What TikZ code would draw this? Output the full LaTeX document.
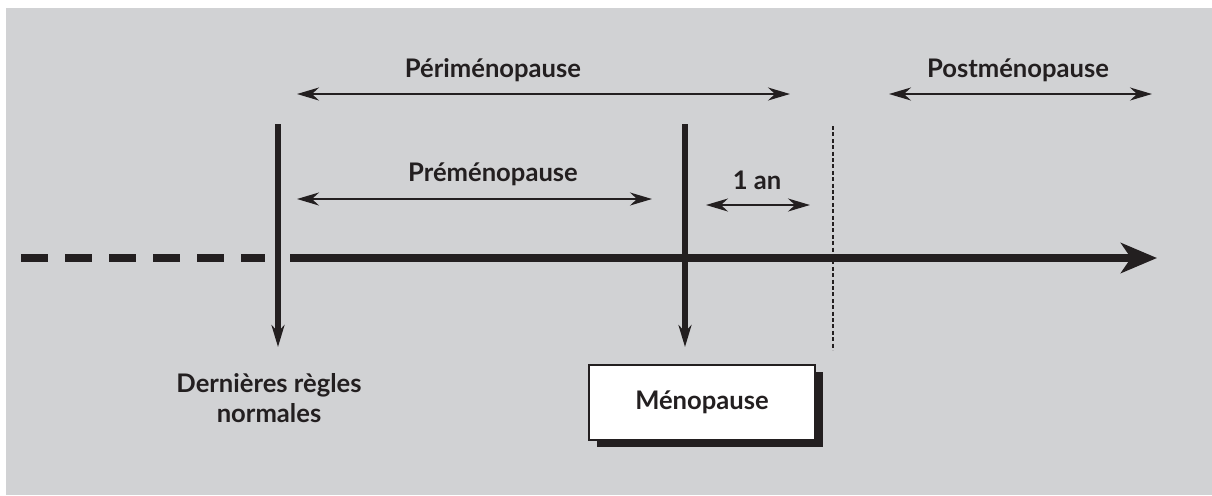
\documentclass[tikz,border=0pt]{standalone}
\usepackage{fontspec}
\setmainfont{Lato}
\usetikzlibrary{arrows.meta,positioning,calc,shadows}

\definecolor{ink}{RGB}{35,31,32}
\definecolor{panel}{RGB}{209,210,212}

\tikzset{
  thinhead/.tip={Stealth[length=11pt,width=6.5pt,inset=3.5pt]},
  bighead/.tip={Stealth[length=18pt,width=15pt,inset=5pt]},
  lbl/.style={font=\bfseries\fontsize{12.8}{15}\selectfont, text=ink, inner sep=0pt, anchor=base},
  phase/.style={thinhead-thinhead, draw=ink, line width=0.9pt},
  timeline/.style={draw=ink, line width=4.4pt},
  event/.style={-thinhead, draw=ink, line width=3.4pt},
  eventbox/.style={draw=ink, fill=white, line width=0.8pt, minimum width=113pt, minimum height=37.5pt,
    drop shadow={shadow xshift=4pt, shadow yshift=-3.5pt, fill=ink, opacity=1}}
}

\begin{document}
\begin{tikzpicture}[x=0.5pt,y=-0.5pt]
  \useasboundingbox (0,0) rectangle (1212,495);
  \fill[panel] (6,8) rectangle (1212,495);

  % time axis
  \coordinate (past) at (21,258);
  \coordinate (gapL) at (265,258);
  \coordinate (gapR) at (290,258);
  \coordinate (future) at (1157,258);

  % vertical markers
  \coordinate (drtop) at (278,124);
  \coordinate (drbot) at (278,347);
  \coordinate (mtop) at (685,124);
  \coordinate (mbot) at (685,347);
  \coordinate (ytop) at (833,126);
  \coordinate (ybot) at (833,350);

  % phase arrows
  \coordinate (periL) at (297,94);
  \coordinate (periR) at (790,94);
  \coordinate (preL) at (297,199);
  \coordinate (preR) at (652,199);
  \coordinate (postL) at (889,94);
  \coordinate (postR) at (1152,94);
  \coordinate (anL) at (706,205);
  \coordinate (anR) at (810,205);

  \node (peri) [lbl] at (493,77) {Périménopause};
  \node (pre) [lbl] at (493,181) {Préménopause};
  \node (post) [lbl] at (1018,77) {Postménopause};
  \node (an) [lbl] at (757,189) {1 an};
  \node (dern) [lbl, align=center] at (269,422) {Dernières règles\\normales};
  \node (meno) [eventbox, lbl, anchor=center, inner sep=2pt] at (702,402.5) {Ménopause};

  \draw [timeline, dash pattern=on 13.5pt off 8.5pt] (past) -- (gapL);
  \draw [timeline, -bighead] (gapR) -- (future);
  \draw [ink, line width=0.7pt, dash pattern=on 2pt off 1.2pt] (ytop) -- (ybot);

  \path
  (drtop) edge [event] (drbot)
  (mtop) edge [event] (mbot);

  \path
  (periL) edge [phase] (periR)
  (preL) edge [phase] (preR)
  (postL) edge [phase] (postR)
  (anL) edge [phase] (anR);
\end{tikzpicture}
\end{document}
